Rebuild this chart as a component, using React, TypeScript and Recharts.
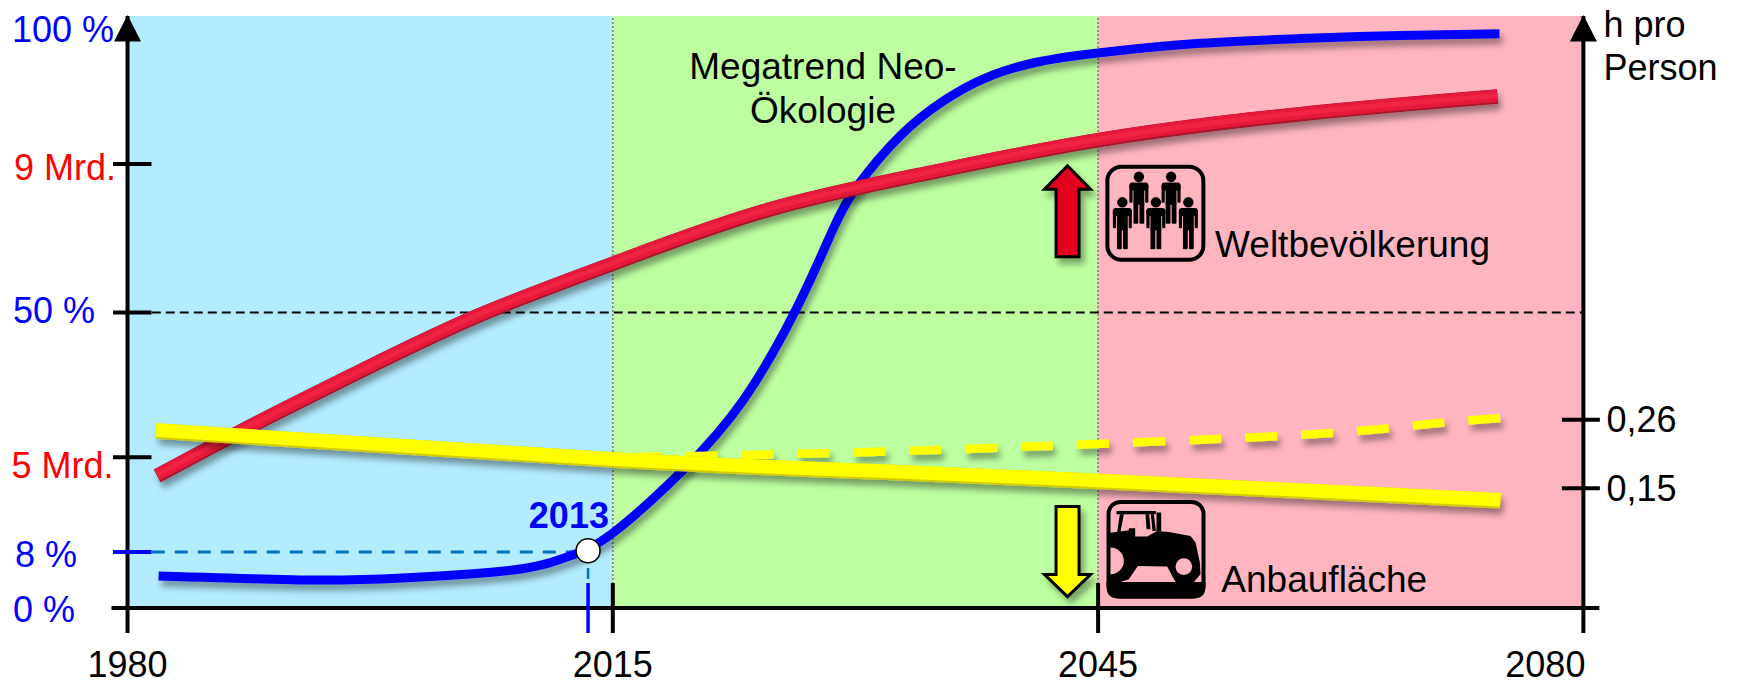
import React from "react";
import { LineChart, Line, XAxis, YAxis, ReferenceArea, ReferenceLine, ReferenceDot } from "recharts";

// x is the position along the time axis: each of the three periods counts 100 units
const yearTicks = [0, 94.9, 100, 200, 300];
const yearLabels = ["1980", "", "2015", "2045", "2080"];

const blueX = [6.4, 38.1, 56.6, 79.4, 91.4, 100, 114.5, 126.9, 138, 145.4, 150.4, 159.2, 168.1, 176.3, 186.6, 200.4, 221, 241.6, 262.3, 282.7];
const blueY = [5.26, 4.58, 4.92, 6.28, 8.74, 12.56, 23.26, 35.14, 50.93, 64.18, 71.48, 79.97, 85.9, 89.64, 92.36, 94.1, 95.7, 96.5, 97.05, 97.33];

const redX = [6.1, 25.9, 48.5, 72.6, 100, 131.8, 166, 200.4, 241.6, 282.3];
const redY = [4.745, 5.44, 6.19, 6.94, 7.64, 8.37, 8.89, 9.33, 9.68, 9.92];

const yellowX = [5.9, 100, 152.4, 200.4, 282.9];
const yellowY = [0.242, 0.1954, 0.177, 0.161, 0.1302];

const dashX = [103.4, 153, 199, 244.8, 267, 282.9];
const dashY = [0.2, 0.2083, 0.2211, 0.2372, 0.2525, 0.2629];

const pctTicks = [0, 9.34, 50, 100];
const pctLabels = ["0 %", "8 %", "50 %", "100 %"];
const popTicks = [5, 9];
const popLabels = ["5 Mrd.", "9 Mrd."];
const areaTicks = [0.15, 0.26];
const areaLabels = ["0,15", "0,26"];

const zip = (xs: number[], ys: number[]) => xs.map((u, i) => ({ u, v: ys[i] }));
const FONT = "Liberation Sans";
const BLUE = "#0000FF";
const SKY = "#B3ECFF";
const GREEN = "#BDFFA0";
const PINK = "#FFB5C0";
const FS = 36;
const PCT_MIN = -0.17;

const XTick = ({ x, y, payload }: any) => {
  const i = yearTicks.indexOf(payload.value);
  const top = payload.value === 0 || payload.value === 300 ? 0 : -25;
  const dx = payload.value === 300 ? -38 : 0;
  const isMark = payload.value === 94.9;
  return (
    <g>
      <line x1={x} x2={x} y1={y + top} y2={y + 25} stroke={isMark ? BLUE : "#000"} strokeWidth={isMark ? 3.5 : 4} />
      {payload.value === 0 && <line x1={x - 16} x2={x} y1={y} y2={y} stroke="#000" strokeWidth={4} />}
      {payload.value === 300 && <line x1={x} x2={x + 16} y1={y} y2={y} stroke="#000" strokeWidth={4} />}
      <text x={x + dx} y={y + 69} textAnchor="middle" fontFamily={FONT} fontSize={FS} fill="#000">{yearLabels[i]}</text>
    </g>
  );
};

const pctStyle: Record<number, { tx: number; dy: number; line: string | null }> = {
  0: { tx: 13, dy: 15, line: null },
  9.34: { tx: 15, dy: 15, line: BLUE },
  50: { tx: 13, dy: 10.5, line: "#000" },
  100: { tx: 12, dy: 23.5, line: null },
};
const PctTick = ({ x, y, payload }: any) => {
  const s = pctStyle[payload.value];
  return (
    <g>
      {s.line && <line x1={x - 14.5} x2={x + 24} y1={y} y2={y} stroke={s.line} strokeWidth={4} />}
      <text x={s.tx} y={y + s.dy} fontFamily={FONT} fontSize={FS} fill={BLUE}>{pctLabels[pctTicks.indexOf(payload.value)]}</text>
    </g>
  );
};
const PopTick = ({ x, y, payload }: any) => {
  const five = payload.value === 5;
  return (
    <g>
      <line x1={x - 14.5} x2={x + 24} y1={y} y2={y} stroke="#000" strokeWidth={4} />
      <text x={five ? 11.5 : 14} y={y + (five ? 20.7 : 16)} fontFamily={FONT} fontSize={FS} fill="#FF0000">{popLabels[popTicks.indexOf(payload.value)]}</text>
    </g>
  );
};
const AreaTick = ({ x, y, payload }: any) => (
  <g>
    <line x1={x - 21.5} x2={x + 16.5} y1={y} y2={y} stroke="#000" strokeWidth={4} />
    <text x={x + 23} y={y + 12.5} fontFamily={FONT} fontSize={FS} fill="#000">{areaLabels[areaTicks.indexOf(payload.value)]}</text>
  </g>
);

const TopArrow = ({ cx, cy, caption }: any) => (
  <g>
    <path d={`M${cx},${cy - 1} L${cx + 13.5},${cy + 25.5} L${cx - 13.5},${cy + 25.5} Z`} fill="#000" />
    {caption && (
      <text fontFamily={FONT} fontSize={FS} fill="#000">
        <tspan x={cx + 20} y={cy + 21}>h pro</tspan>
        <tspan x={cx + 20} y={cy + 64}>Person</tspan>
      </text>
    )}
  </g>
);

const Caption = ({ cx, cy, lines, anchor, weight, color, size }: any) => (
  <text fontFamily={FONT} fontSize={size ?? 37} textAnchor={anchor ?? "start"} fontWeight={weight ?? "normal"} fill={color ?? "#000"}>
    {lines.map((l: string, i: number) => (
      <tspan key={i} x={cx} y={cy + i * 44}>{l}</tspan>
    ))}
  </text>
);

const UpArrow = ({ cx, cy }: any) => (
  <path
    d={`M${cx},${cy - 45.5} L${cx + 23},${cy - 22} H${cx + 11.5} V${cy + 45.5} H${cx - 11.5} V${cy - 22} H${cx - 23} Z`}
    fill="#E2001A" stroke="#000" strokeWidth={3} strokeLinejoin="miter" filter="url(#soft)"
  />
);
const DownArrow = ({ cx, cy }: any) => (
  <path
    d={`M${cx},${cy + 45} L${cx + 23},${cy + 23} H${cx + 11.5} V${cy - 45} H${cx - 11.5} V${cy + 23} H${cx - 23} Z`}
    fill="#FFFF00" stroke="#000" strokeWidth={3} strokeLinejoin="miter" filter="url(#soft)"
  />
);

const Person = ({ x, y }: any) => (
  <g transform={`translate(${x},${y})`} fill="#000">
    <circle cx={0} cy={0} r={5.2} />
    <rect x={-9.5} y={5.8} width={19} height={8} rx={3} />
    <rect x={-9.5} y={8} width={3.2} height={18} rx={1} />
    <rect x={6.3} y={8} width={3.2} height={18} rx={1} />
    <rect x={-5.4} y={8} width={10.8} height={20} />
    <rect x={-5.4} y={26} width={4.8} height={21} rx={1} />
    <rect x={0.6} y={26} width={4.8} height={21} rx={1} />
  </g>
);
const PeopleIcon = ({ cx, cy }: any) => (
  <g transform={`translate(${cx},${cy})`}>
    <rect x={-48} y={-46.5} width={96} height={93} rx={14} fill="none" stroke="#000" strokeWidth={4} />
    <Person x={-16.5} y={-36.5} />
    <Person x={15.7} y={-36.5} />
    <Person x={-33} y={-11} />
    <Person x={0.5} y={-11} />
    <Person x={33} y={-11} />
  </g>
);
const TractorIcon = ({ cx, cy }: any) => (
  <g transform={`translate(${cx},${cy}) scale(0.3333) translate(-166,-160)`}>
    <rect x={24} y={18} width={285} height={284} rx={36} fill="none" stroke="#000" strokeWidth={12} />
    <path d="M18,258 H315 V272 Q315,308 279,308 H54 Q18,308 18,272 Z" fill="#000" />
    <rect x={48} y={45} width={118} height={10} fill="#000" />
    <path d="M58,55 H70 L60,108 H50 Z M135,55 H146 L150,100 H138 Z M151,55 H160 L166,105 H156 Z M168,50 H182 V105 H168 Z" fill="#000" />
    <path d="M20,112 L85,103 V97 H104 V122 H140 L170,105 L205,108 L270,120 L285,140 L298,200 L300,235 L280,258 L225,258 L200,212 L112,210 L85,250 L55,260 L20,260 Z" fill="#000" />
    <path d="M30,155 A40,40 0 0 1 30,235 Z" fill={PINK} />
    <circle cx={250} cy={212} r={25} fill={PINK} />
  </g>
);

const App = () => (
  <div style={{ position: "absolute", left: 0, top: 0, width: 1737, height: 681, background: "#fff" }}>
    <LineChart width={1737} height={681} margin={{ top: 16, right: 153.6, bottom: 73, left: 127.5 }}>
      <defs>
        <filter id="shadow" filterUnits="userSpaceOnUse" x={0} y={0} width={1737} height={681}>
          <feDropShadow dx={3} dy={6} stdDeviation={3} floodColor="#000" floodOpacity={0.38} />
        </filter>
        <filter id="soft" filterUnits="userSpaceOnUse" x={0} y={0} width={1737} height={681}>
          <feDropShadow dx={4} dy={6} stdDeviation={3} floodColor="#000" floodOpacity={0.35} />
        </filter>
      </defs>
      <XAxis
        xAxisId="t" dataKey="u" type="number" domain={[0, 300]} ticks={yearTicks} interval={0} height={0.01}
        tickSize={0} tickMargin={0} tickLine={false} axisLine={{ stroke: "#000", strokeWidth: 4 }}
        tick={(p: any) => <XTick {...p} />} allowDataOverflow
      />
      <YAxis
        yAxisId="pct" orientation="left" type="number" domain={[PCT_MIN, 100.34]} ticks={pctTicks} interval={0} width={0.01}
        tickSize={0} tickMargin={0} tickLine={false} axisLine={{ stroke: "#000", strokeWidth: 4 }}
        tick={(p: any) => <PctTick {...p} />} allowDataOverflow
      />
      <YAxis
        yAxisId="pop" orientation="left" type="number" domain={[2.944, 11.019]} ticks={popTicks} interval={0} width={0.01}
        tickSize={0} tickMargin={0} tickLine={false} axisLine={false}
        tick={(p: any) => <PopTick {...p} />} allowDataOverflow
      />
      <YAxis
        yAxisId="area" orientation="right" type="number" domain={[-0.0422, 0.9085]} ticks={areaTicks} interval={0} width={0.01}
        tickSize={0} tickMargin={0} tickLine={false} axisLine={{ stroke: "#000", strokeWidth: 4 }}
        tick={(p: any) => <AreaTick {...p} />} allowDataOverflow
      />

      <ReferenceArea xAxisId="t" yAxisId="pct" x1={0} x2={100} y1={PCT_MIN} y2={100.34} fill={SKY} fillOpacity={1} stroke="none" />
      <ReferenceArea xAxisId="t" yAxisId="pct" x1={100} x2={200} y1={PCT_MIN} y2={100.34} fill={GREEN} fillOpacity={1} stroke="none" />
      <ReferenceArea xAxisId="t" yAxisId="pct" x1={200} x2={300} y1={PCT_MIN} y2={100.34} fill={PINK} fillOpacity={1} stroke="none" />

      <ReferenceLine xAxisId="t" yAxisId="pct" x={100} stroke="#777" strokeWidth={1.5} strokeDasharray="2 2" />
      <ReferenceLine xAxisId="t" yAxisId="pct" x={200} stroke="#777" strokeWidth={1.5} strokeDasharray="2 2" />
      <ReferenceLine xAxisId="t" yAxisId="pct" segment={[{ x: 5, y: 50 }, { x: 300, y: 50 }]} stroke="#000" strokeWidth={1.8} strokeDasharray="9 5" />
      <ReferenceLine xAxisId="t" yAxisId="pct" segment={[{ x: 5, y: 9.34 }, { x: 92, y: 9.34 }]} stroke="#0070C0" strokeWidth={3} strokeDasharray="13 10" />
      <ReferenceLine xAxisId="t" yAxisId="pct" segment={[{ x: 94.9, y: 9.34 }, { x: 94.9, y: 4.07 }]} stroke="#0070C0" strokeWidth={2.5} strokeDasharray="11 5" />

      <Line xAxisId="t" yAxisId="pct" data={zip(blueX, blueY)} dataKey="v" type="natural" stroke={BLUE} strokeWidth={9} dot={false} activeDot={false} isAnimationActive={false} filter="url(#shadow)" />
      <Line xAxisId="t" yAxisId="pop" data={zip(redX, redY)} dataKey="v" type="natural" stroke="#A5122C" strokeWidth={14.5} dot={false} activeDot={false} isAnimationActive={false} filter="url(#shadow)" />
      <Line xAxisId="t" yAxisId="pop" data={zip(redX, redY)} dataKey="v" type="natural" stroke="#E6183B" strokeWidth={12.5} transform="translate(0,-0.8)" dot={false} activeDot={false} isAnimationActive={false} />
      <Line xAxisId="t" yAxisId="pop" data={zip(redX, redY)} dataKey="v" type="natural" stroke="#F02342" strokeWidth={5} transform="translate(0,-1)" dot={false} activeDot={false} isAnimationActive={false} />
      <Line xAxisId="t" yAxisId="area" data={zip(dashX, dashY)} dataKey="v" type="natural" stroke="#FFFF00" strokeWidth={8.5} strokeDasharray="32 24" dot={false} activeDot={false} isAnimationActive={false} filter="url(#shadow)" />
      <Line xAxisId="t" yAxisId="area" data={zip(yellowX, yellowY)} dataKey="v" type="natural" stroke="#D2CC00" strokeWidth={15.5} dot={false} activeDot={false} isAnimationActive={false} filter="url(#shadow)" />
      <Line xAxisId="t" yAxisId="area" data={zip(yellowX, yellowY)} dataKey="v" type="natural" stroke="#FFFF00" strokeWidth={13.5} transform="translate(0,-1)" dot={false} activeDot={false} isAnimationActive={false} />

      <ReferenceDot xAxisId="t" yAxisId="pct" x={94.9} y={9.56} r={12} fill="#fff" stroke="#000" strokeWidth={1.5} />
      <ReferenceDot xAxisId="t" yAxisId="pct" x={0} y={100.34} ifOverflow="visible" shape={(p: any) => <TopArrow {...p} />} />
      <ReferenceDot xAxisId="t" yAxisId="pct" x={300} y={100.34} ifOverflow="visible" shape={(p: any) => <TopArrow {...p} caption />} />
      <ReferenceDot xAxisId="t" yAxisId="pct" x={82.7} y={13.46} shape={(p: any) => <Caption {...p} lines={["2013"]} weight="bold" color={BLUE} size={36} />} />
      <ReferenceDot xAxisId="t" yAxisId="pct" x={143.3} y={89.6} shape={(p: any) => <Caption {...p} lines={["Megatrend Neo-", "Ökologie"]} anchor="middle" />} />
      <ReferenceDot xAxisId="t" yAxisId="pct" x={224.1} y={59.5} shape={(p: any) => <Caption {...p} lines={["Weltbevölkerung"]} />} />
      <ReferenceDot xAxisId="t" yAxisId="pct" x={225.4} y={2.55} shape={(p: any) => <Caption {...p} lines={["Anbaufläche"]} />} />
      <ReferenceDot xAxisId="t" yAxisId="pct" x={193.7} y={67.2} shape={(p: any) => <UpArrow {...p} />} />
      <ReferenceDot xAxisId="t" yAxisId="pct" x={193.7} y={9.4} shape={(p: any) => <DownArrow {...p} />} />
      <ReferenceDot xAxisId="t" yAxisId="pct" x={211.8} y={66.84} shape={(p: any) => <PeopleIcon {...p} />} />
      <ReferenceDot xAxisId="t" yAxisId="pct" x={211.9} y={9.8} shape={(p: any) => <TractorIcon {...p} />} />
    </LineChart>
  </div>
);

export default App;
